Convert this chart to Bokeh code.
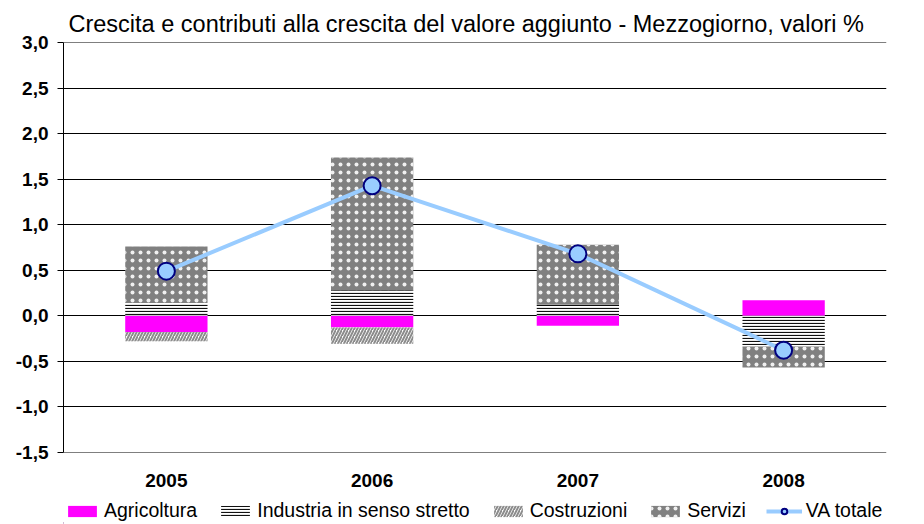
import numpy as np
from bokeh.plotting import figure
from bokeh.layouts import column
from bokeh.models import (ColumnDataSource, FactorRange, Range1d, Legend, LegendItem,
                          CustomJSTickFormatter, FixedTicker)
from bokeh.embed import file_html
from bokeh.resources import INLINE

# ---- data ----
years = ["2005", "2006", "2007", "2008"]
agricoltura = [-0.18, -0.13, -0.11, 0.17]
industria = [0.14, 0.28, 0.12, -0.34]
costruzioni = [-0.10, -0.18, 0.0, 0.0]
servizi = [0.62, 1.46, 0.66, -0.23]
va_totale = [0.49, 1.43, 0.68, -0.38]
y_ticks = [-1.5, -1.0, -0.5, 0.0, 0.5, 1.0, 1.5, 2.0, 2.5, 3.0]

series_names = ["Agricoltura", "Industria in senso stretto", "Costruzioni", "Servizi"]
series_values = [agricoltura, industria, costruzioni, servizi]

FONT = "Liberation Sans"

styles = {
    "Agricoltura": dict(fill_color="#FF00FF", line_color=None),
    "Industria in senso stretto": dict(fill_color="white", line_color=None, hatch_pattern="horizontal_line",
                                       hatch_color="#111111", hatch_scale=3, hatch_weight=1.2),
    "Costruzioni": dict(fill_color="white", line_color=None, hatch_pattern="right_diagonal_line",
                        hatch_color="#8C8C8C", hatch_scale=6, hatch_weight=2),
    "Servizi": dict(fill_color="#808080", line_color=None, hatch_pattern="dot",
                    hatch_color="#F0F0F0", hatch_scale=8, hatch_weight=2),
}
line_style = dict(line_color="#99CCFF", line_width=4)
marker_style = dict(size=17, fill_color="#99CCFF", line_color="#000080", line_width=2)

p = figure(x_range=FactorRange(factors=years), y_range=Range1d(-1.505, 3.005),
           frame_width=823, frame_height=410, output_backend="svg", toolbar_location=None,
           min_border_left=63, min_border_top=42, min_border_right=38, min_border_bottom=46)

p.title.text = "Crescita e contributi alla crescita del valore aggiunto - Mezzogiorno, valori %"
p.title.text_font = FONT
p.title.text_font_size = "23.5px"
p.title.text_font_style = "normal"
p.title.align = "left"
p.title.offset = 5
p.title.standoff = 12
p.title.text_color = "black"

pos = np.zeros(len(years))
neg = np.zeros(len(years))
for name, vals in zip(series_names, series_values):
    v = np.array(vals, dtype=float)
    bottom = np.where(v >= 0, pos, neg)
    top = bottom + v
    pos = np.where(v >= 0, top, pos)
    neg = np.where(v < 0, top, neg)
    src = ColumnDataSource(dict(x=years, bottom=bottom, top=top))
    p.vbar(x="x", bottom="bottom", top="top", width=0.40, source=src, **styles[name])

line_src = ColumnDataSource(dict(x=years, y=va_totale))
p.line(x="x", y="y", source=line_src, **line_style)
p.scatter(x="x", y="y", source=line_src, **marker_style)

# axes
p.yaxis.ticker = FixedTicker(ticks=y_ticks)
p.yaxis.formatter = CustomJSTickFormatter(code="return tick.toFixed(1).replace('.', ',');")
p.yaxis.major_label_text_font = FONT
p.yaxis.major_label_text_font_style = "bold"
p.yaxis.major_label_text_font_size = "19px"
p.yaxis.major_label_text_color = "black"
p.yaxis.major_tick_out = 6
p.yaxis.major_tick_in = 0
p.yaxis.minor_tick_line_color = None
p.yaxis.axis_line_color = "black"
p.yaxis.major_tick_line_color = "black"
p.yaxis.major_label_standoff = 9

p.xaxis.axis_line_color = None
p.xaxis.major_tick_line_color = None
p.xaxis.major_label_text_font = FONT
p.xaxis.major_label_text_font_style = "bold"
p.xaxis.major_label_text_font_size = "19px"
p.xaxis.major_label_text_color = "black"
p.xaxis.major_label_standoff = 15

p.xgrid.grid_line_color = None
p.ygrid.grid_line_color = "black"
p.ygrid.grid_line_width = 1
p.outline_line_color = None
p.background_fill_color = "white"
p.border_fill_color = "white"

# ---- legend strip below the chart ----
lg = figure(width=924, height=26, x_range=Range1d(0, 1), y_range=Range1d(0, 1),
            x_axis_type=None, y_axis_type=None, output_backend="svg", toolbar_location=None,
            min_border=0)
lg.outline_line_color = None
lg.xgrid.grid_line_color = None
lg.ygrid.grid_line_color = None
lg.border_fill_color = "white"
items = []
# placeholder glyphs lie outside the visible range; they only feed the legend swatches
for name in series_names:
    r = lg.vbar(x="x", bottom="bottom", top="top", width=0.4,
                source=ColumnDataSource(dict(x=[-5.0], bottom=[0.0], top=[0.1])), **styles[name])
    items.append(LegendItem(label=name, renderers=[r]))
esrc = ColumnDataSource(dict(x=[-5.0, -4.0], y=[0.5, 0.5]))
lr = lg.line(x="x", y="y", source=esrc, **line_style)
cr = lg.scatter(x="x", y="y", source=esrc, **marker_style)
items.append(LegendItem(label="VA totale", renderers=[lr, cr]))

legend = Legend(items=items, orientation="horizontal", location=(1, 2),
                label_text_font=FONT, label_text_font_size="19.5px", label_text_color="black",
                glyph_width=36, glyph_height=14, label_standoff=4, spacing=20,
                padding=0, margin=0, border_line_color=None, background_fill_alpha=0,
                label_height=22)
lg.add_layout(legend, "center")

layout = column(p, lg, spacing=0)
open("out.html", "w").write(file_html(layout, INLINE))
